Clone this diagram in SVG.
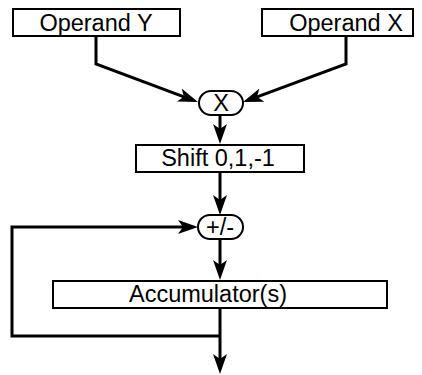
<svg xmlns="http://www.w3.org/2000/svg" width="422" height="375" viewBox="0 0 422 375">
<style>
.box{fill:#fff;stroke:#000;stroke-width:2}
.lbl{font-family:"Liberation Sans",Arial,sans-serif;font-size:23.5px;fill:#000;text-anchor:middle}
.wire{fill:none;stroke:#000;stroke-width:3;marker-end:url(#ah)}
</style>
<defs>
<marker id="ah" viewBox="0 0 20 14" refX="15" refY="7" markerWidth="20" markerHeight="14" markerUnits="userSpaceOnUse" orient="auto">
<path d="M0,0 L20,7 L0,14 L5,7 z" fill="#000"/>
</marker>
</defs>
<rect width="422" height="375" fill="#fff"/>
<g id="connectors">
<path class="wire" d="M96,36 L96,64 L193.3,100.3"/>
<path class="wire" d="M346,36 L346,64 L247.7,100.3"/>
<path class="wire" d="M220,115 L220,139"/>
<path class="wire" d="M220,172 L220,210"/>
<path class="wire" d="M220,239 L220,275"/>
<path class="wire" d="M220,307 L220,369"/>
<path class="wire" d="M220,336 L12,336 L12,227 L193,227"/>
</g>
<g id="operandY">
<rect class="box" x="13" y="9" width="167" height="27"/>
<text class="lbl" x="96" y="31">Operand Y</text>
</g>
<g id="operandX">
<rect class="box" x="262" y="9" width="151" height="27"/>
<text class="lbl" x="346" y="31">Operand X</text>
</g>
<g id="multiply">
<rect class="box" x="199" y="91" width="44" height="24" rx="12" ry="12"/>
<text class="lbl" x="221" y="111">X</text>
</g>
<g id="shift">
<rect class="box" x="136" y="145" width="168" height="27"/>
<text class="lbl" x="218" y="166">Shift 0,1,-1</text>
</g>
<g id="addsub">
<rect class="box" x="198" y="215" width="45" height="24" rx="12" ry="12"/>
<text class="lbl" x="220" y="235">+/-</text>
</g>
<g id="accumulator">
<rect class="box" x="53" y="281" width="334" height="27"/>
<text class="lbl" x="208" y="302">Accumulator(s)</text>
</g>
</svg>
